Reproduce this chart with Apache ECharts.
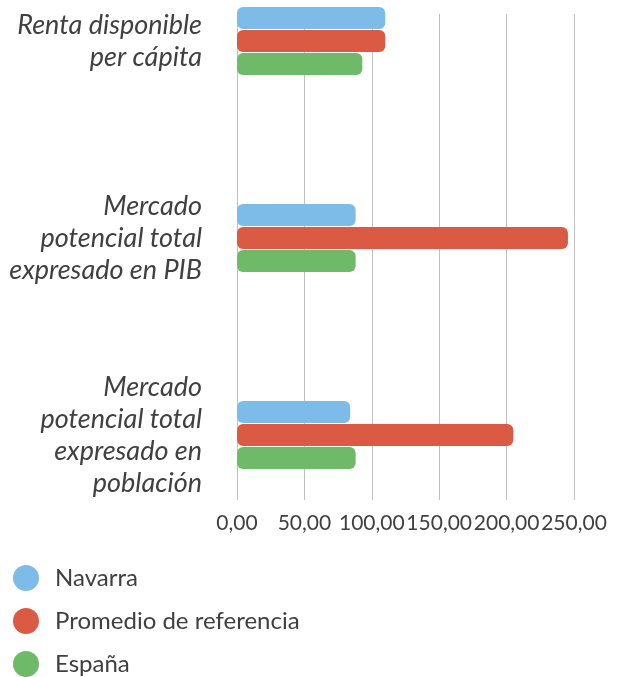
<!DOCTYPE html>
<html>
<head>
<meta charset="utf-8">
<script src="https://cdn.jsdelivr.net/npm/echarts@6/dist/echarts.min.js"></script>
<style>
  html, body { margin: 0; padding: 0; background: #fff; }
  #chart { width: 622px; height: 677px; }
</style>
</head>
<body>
<div id="chart"></div>
<script>
// categorias (de arriba a abajo)
const categories = [
  "Renta disponible\nper cápita",
  "Mercado\npotencial total\nexpresado en PIB",
  "Mercado\npotencial total\nexpresado en\npoblación",
];
const seriesNames = ["Navarra", "Promedio de referencia", "España"];
const navarra = [110, 88, 84];
const promedio = [110, 245.5, 205];
const espana = [93, 88, 88];
const xTicks = [0, 50, 100, 150, 200, 250];

const colors = ["#7dbce8", "#db5a43", "#6fba68"];
const textColor = "#404040";

function fmt(v) {
  return v.toFixed(2).replace(".", ",");
}

const chart = echarts.init(document.getElementById("chart"));

const option = {
  backgroundColor: "#fff",
  animation: false,
  color: colors,
  legend: {
    orient: "vertical",
    left: 13,
    top: 565,
    padding: 0,
    icon: "circle",
    itemWidth: 26,
    itemHeight: 26,
    itemGap: 17,
    data: seriesNames,
    textStyle: {
      fontFamily: "Lato",
      fontSize: 24,
      color: textColor,
      padding: [0, 0, 0, 11],
    },
  },
  grid: [
    // barras (categorias en los bordes)
    { left: 237, right: 48, top: 41, height: 394 },
    // eje x y lineas
    { left: 237, right: 48, top: 14, height: 486 },
  ],
  xAxis: [
    {
      gridIndex: 0,
      type: "value",
      min: xTicks[0],
      max: xTicks[xTicks.length - 1],
      show: false,
    },
    {
      gridIndex: 1,
      type: "value",
      min: xTicks[0],
      max: xTicks[xTicks.length - 1],
      interval: 50,
      axisLine: { show: false },
      axisTick: { show: false },
      splitLine: { lineStyle: { color: "#c0c0c0", width: 1 } },
      axisLabel: {
        formatter: fmt,
        fontFamily: "Lato",
        fontSize: 21,
        color: textColor,
        margin: 13,
      },
    },
  ],
  yAxis: [
    {
      gridIndex: 0,
      type: "category",
      inverse: true,
      boundaryGap: false,
      data: categories,
      axisLine: { show: false },
      axisTick: { show: false },
      splitLine: { show: false },
      axisLabel: {
        fontFamily: "Lato",
        fontStyle: "italic",
        fontSize: 27,
        lineHeight: 32,
        color: textColor,
        align: "right",
        margin: 35,
      },
    },
    {
      gridIndex: 1,
      type: "category",
      data: ["a"],
      show: false,
    },
  ],
  series: [
    {
      name: seriesNames[0],
      type: "bar",
      data: navarra,
      barWidth: 22,
      barGap: "5%",
      itemStyle: { color: colors[0], borderRadius: 6 },
    },
    {
      name: seriesNames[1],
      type: "bar",
      data: promedio,
      barWidth: 22,
      barGap: "5%",
      itemStyle: { color: colors[1], borderRadius: 6 },
    },
    {
      name: seriesNames[2],
      type: "bar",
      data: espana,
      barWidth: 22,
      barGap: "5%",
      itemStyle: { color: colors[2], borderRadius: 6 },
    },
  ],
};

chart.setOption(option);
</script>
</body>
</html>
